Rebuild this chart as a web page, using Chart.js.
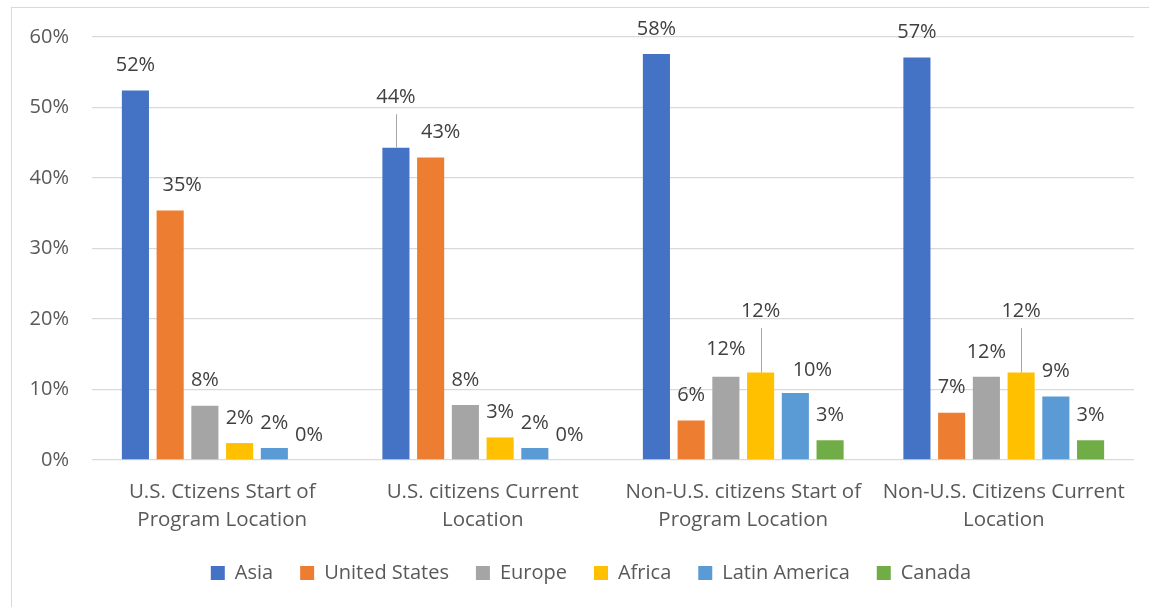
<!DOCTYPE html>
<html>
<head>
<meta charset="utf-8">
<script src="https://cdn.jsdelivr.net/npm/chart.js@4"></script>
<style>
html,body{margin:0;padding:0;background:#fff;}
#wrap{width:1149px;height:607px;position:relative;}
</style>
</head>
<body>
<div id="wrap"><canvas id="c" width="1149" height="607"></canvas></div>
<script>
// ---- data ----
const categories = [
  ["U.S. Ctizens Start of", "Program Location"],
  ["U.S. citizens Current", "Location"],
  ["Non-U.S. citizens Start of", "Program Location"],
  ["Non-U.S. Citizens Current", "Location"]
];
const seriesNames = ["Asia", "United States", "Europe", "Africa", "Latin America", "Canada"];
const asia         = [52.4, 44.3, 57.6, 57.1];
const unitedStates = [35.4, 42.9, 5.6, 6.7];
const europe       = [7.7, 7.8, 11.8, 11.8];
const africa       = [2.4, 3.2, 12.4, 12.4];
const latinAmerica = [1.7, 1.7, 9.5, 9.0];
const canada       = [0, 0, 2.8, 2.8];
const yTicks = [0, 10, 20, 30, 40, 50, 60];

// ---- styles ----
const colors = ["#4472C4", "#ED7D31", "#A5A5A5", "#FFC000", "#5B9BD5", "#70AD47"];
const FONT = "'Open Sans', 'DejaVu Sans', sans-serif";
// label nudges (pixels) keyed "dataset,index"
const labelNudges = {
  "1,0": {dx: 12},
  "0,1": {dy: -50, leader: true},
  "1,1": {dx: 10},
  "2,2": {dy: -28},
  "3,2": {dy: -61, leader: true},
  "4,2": {dx: 17, dy: -23},
  "3,3": {dy: -61, leader: true}
};

const seriesData = [asia, unitedStates, europe, africa, latinAmerica, canada];

const borderPlugin = {
  id: 'outerBorder',
  beforeDraw(chart) {
    const ctx = chart.ctx;
    ctx.save();
    ctx.fillStyle = '#fff';
    ctx.fillRect(0, 0, chart.width, chart.height);
    ctx.strokeStyle = '#D9D9D9';
    ctx.lineWidth = 1;
    ctx.strokeRect(11.5, 7.5, 1200, 700);
    ctx.restore();
  }
};

const legendShift = {
  id: 'legendShift',
  afterLayout(chart) {
    if (chart.legend) { chart.legend.left += 14; chart.legend.right += 14; }
  }
};

const labelPlugin = {
  id: 'barLabels',
  afterDatasetsDraw(chart) {
    const ctx = chart.ctx;
    ctx.save();
    ctx.font = "20px " + FONT;
    ctx.textAlign = 'center';
    ctx.textBaseline = 'middle';
    chart.data.datasets.forEach((ds, di) => {
      const meta = chart.getDatasetMeta(di);
      meta.data.forEach((el, i) => {
        const n = labelNudges[di + "," + i] || {};
        const dx = n.dx || 0;
        const dy = (n.dy !== undefined) ? n.dy : -25;
        const lx = el.x + dx, ly = el.y + dy;
        if (n.leader) {
          ctx.strokeStyle = '#A6A6A6';
          ctx.lineWidth = 1;
          ctx.beginPath();
          ctx.moveTo(Math.round(el.x) + 0.5, ly + 16.5);
          ctx.lineTo(Math.round(el.x) + 0.5, el.y);
          ctx.stroke();
        }
        ctx.fillStyle = '#404040';
        ctx.fillText(Math.round(ds.data[i]) + '%', lx, ly);
      });
    });
    ctx.restore();
  }
};

new Chart(document.getElementById('c'), {
  type: 'bar',
  data: {
    labels: categories,
    datasets: seriesNames.map((name, k) => ({
      label: name,
      data: seriesData[k],
      backgroundColor: colors[k],
      borderWidth: 0,
      categoryPercentage: 0.8,
      barPercentage: 0.78
    }))
  },
  options: {
    responsive: false,
    animation: false,
    layout: {padding: {left: 20, right: 15, top: 37, bottom: 14}},
    plugins: {
      tooltip: {enabled: false},
      legend: {
        position: 'bottom',
        labels: {
          boxWidth: 14, boxHeight: 14, padding: 27,
          color: '#595959',
          font: {family: FONT, size: 20}
        }
      }
    },
    scales: {
      x: {
        grid: {display: false, drawTicks: false},
        border: {display: false},
        ticks: {color: '#595959', font: {family: FONT, size: 20.5, lineHeight: 1.37}, padding: 18, maxRotation: 0, autoSkip: false},
        afterFit(s) { s.height = 76; }
      },
      y: {
        min: 0, max: 60,
        grid: {color: '#D9D9D9', lineWidth: 1.3, drawTicks: false},
        border: {display: false},
        afterBuildTicks(s) { s.ticks = yTicks.map(v => ({value: v})); },
        ticks: {color: '#595959', font: {family: FONT, size: 20}, padding: 23, callback: v => v + '%'},
        afterFit(s) { s.width = 72; }
      }
    }
  },
  plugins: [borderPlugin, legendShift, labelPlugin]
});
</script>
</body>
</html>
